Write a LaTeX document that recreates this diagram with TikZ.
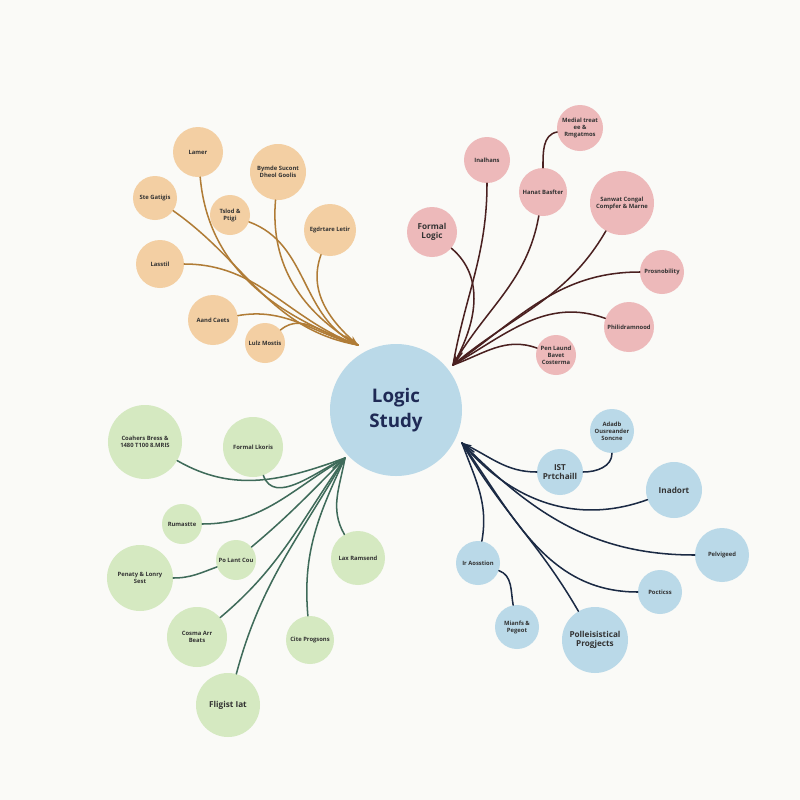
\documentclass[tikz,border=0pt]{standalone}
\usepackage{fontspec}
\setmainfont{Open Sans}
\usetikzlibrary{arrows.meta}
\definecolor{bgc}{HTML}{FAFAF7}
\definecolor{orangefill}{HTML}{F3CFA3}
\definecolor{orangeline}{HTML}{B07C36}
\definecolor{pinkfill}{HTML}{EDB9BA}
\definecolor{pinkline}{HTML}{4A2020}
\definecolor{greenfill}{HTML}{D5E9C1}
\definecolor{greenline}{HTML}{3F6B5A}
\definecolor{bluefill}{HTML}{BAD9E8}
\definecolor{blueline}{HTML}{1B2A44}
\definecolor{hubtext}{HTML}{1F2A55}
\tikzset{
  topic/.style={circle, inner sep=1pt, align=center, text=black!80,
    font=\fontsize{5}{6}\selectfont\bfseries},
  rad/.style={minimum size=#1*0.6mm},
  branch/.style={line width=1.3pt, line cap=round},
}
\begin{document}
\begin{tikzpicture}[x=0.03cm, y=-0.03cm]
  \fill[bgc] (0,0) rectangle (800,800);
  \useasboundingbox (0,0) rectangle (800,800);

  % centre
  \node (hub) [circle, fill=bluefill, rad=66, align=center, text=hubtext,
        font=\fontsize{16}{21}\selectfont\bfseries] at (396,410) {Logic\\Study};

  % orange branch
  \coordinate (tipO) at (358,345);
  \coordinate (preO) at (345,336);
  \begin{scope}[every node/.style={topic, fill=orangefill}]
    \node (lamer) [rad=25] at (198,152) {Lamer};
    \node (gatigis) [rad=22] at (155,198) {Ste Gatigis};
    \node (bymde) [rad=28] at (278,172) {Bymde Sucont\\Dheol Goolis};
    \node (tslod) [rad=20] at (230,215) {Tslod \&\\Ptigi};
    \node (egdr) [rad=26] at (330,230) {Egdrtare Letir};
    \node (lasstil) [rad=24] at (160,264) {Lasstil};
    \node (aand) [rad=25] at (213,320) {Aand Caets};
    \node (lulz) [rad=20] at (265,343) {Lulz Mostis};
  \end{scope}
  \foreach \n/\o/\i in {gatigis/-35/170, lamer/-85/160, tslod/-20/155,
      bymde/-95/150, egdr/-110/140, lasstil/0/160, aand/10/165, lulz/40/170}
    \draw[branch, orangeline] (\n) to[out=\o, in=\i] (tipO);
  \draw[branch, orangeline, -{Stealth[length=8pt, width=7pt]}] (preO) -- (tipO);

  % pink branch
  \coordinate (tipP) at (453,365);
  \coordinate (preP) at (462,353);
  \begin{scope}[every node/.style={topic, fill=pinkfill}]
    \node (formal) [rad=25, font=\fontsize{7}{8}\selectfont\bfseries] at (432,232) {Formal\\Logic};
    \node (inal) [rad=23] at (487,160) {Inalhans};
    \node (medial) [rad=23] at (580,128) {Medial treat\\ee \&\\Rmgatmos};
    \node (hanat) [rad=24] at (543,192) {Hanat Basfter};
    \node (sanwat) [rad=32] at (622,203) {Sanwat Congal\\Compfer \& Marne};
    \node (prosno) [rad=22] at (662,272) {Prosnobility};
    \node (philid) [rad=25] at (629,327) {Philidramnood};
    \node (penl) [rad=20] at (556,355) {Pen Laund\\Bavet\\Costerma};
  \end{scope}
  \draw[branch, pinkline] (medial) to[out=190, in=90] (hanat);
  \foreach \n/\o/\i in {formal/-40/60, inal/-90/80, hanat/-100/60,
      sanwat/-120/40, prosno/180/35, philid/160/30, penl/160/20}
    \draw[branch, pinkline] (\n) to[out=\o, in=\i] (tipP);
  \draw[branch, pinkline, -{Stealth[length=8pt, width=7pt]}] (preP) -- (tipP);

  % green branch
  \coordinate (tipG) at (345,458);
  \coordinate (preG) at (333,468);
  \begin{scope}[every node/.style={topic, fill=greenfill}]
    \node (coah) [rad=37] at (145,442) {Coahers Bress \&\\1480 T100 8.MRIS};
    \node (flkor) [rad=30] at (253,447) {Formal Lkoris};
    \node (rumas) [rad=20] at (182,524) {Rumastte};
    \node (polant) [rad=20] at (236,560) {Po Lant Cou};
    \node (penaty) [rad=33] at (140,578) {Penaty \& Lonry\\Sest};
    \node (laxr) [rad=27] at (358,558) {Lax Ramsend};
    \node (cosma) [rad=30] at (197,637) {Cosma Arr\\Beats};
    \node (citep) [rad=24] at (310,640) {Cite Progsons};
    \node (fligist) [rad=32, font=\fontsize{7}{8}\selectfont\bfseries] at (228,705) {Fligist Iat};
  \end{scope}
  \draw[branch, greenline] (penaty) to[out=0, in=200] (polant);
  \foreach \n/\o/\i in {coah/-30/200, flkor/-70/205, rumas/0/210, polant/40/225,
      laxr/120/260, cosma/40/235, citep/95/245, fligist/75/240}
    \draw[branch, greenline] (\n) to[out=\o, in=\i] (tipG);
  \draw[branch, greenline, -{Stealth[length=8pt, width=7pt]}] (preG) -- (tipG);

  % blue branch
  \coordinate (tipB) at (462,443);
  \coordinate (preB) at (474,452);
  \begin{scope}[every node/.style={topic, fill=bluefill}]
    \node (adadb) [rad=22] at (612,431) {Adadb\\Ousreander\\Soncne};
    \node (istp) [rad=23, font=\fontsize{7}{8}\selectfont\bfseries] at (560,472) {IST\\Prtchaill};
    \node (inad) [rad=28, font=\fontsize{7}{8}\selectfont\bfseries] at (674,490) {Inadort};
    \node (pelv) [rad=27] at (722,555) {Pelvigeed};
    \node (iraos) [rad=22] at (478,563) {Ir Aosstion};
    \node (poct) [rad=22] at (660,592) {Pocticss};
    \node (mianf) [rad=22] at (517,627) {Mianfs \&\\Pegeot};
    \node (polle) [rad=33, font=\fontsize{7}{8}\selectfont\bfseries] at (595,640) {Polleisistical\\Progjects};
  \end{scope}
  \draw[branch, blueline] (istp) to[out=0, in=-90] (adadb);
  \draw[branch, blueline] (iraos) to[out=-20, in=100] (mianf);
  \foreach \n/\o/\i in {istp/180/-25, inad/200/-50, pelv/180/-45, poct/180/-55,
      iraos/80/-70, polle/120/-60}
    \draw[branch, blueline] (\n) to[out=\o, in=\i] (tipB);
  \draw[branch, blueline, -{Stealth[length=8pt, width=7pt]}] (preB) -- (tipB);
\end{tikzpicture}
\end{document}
